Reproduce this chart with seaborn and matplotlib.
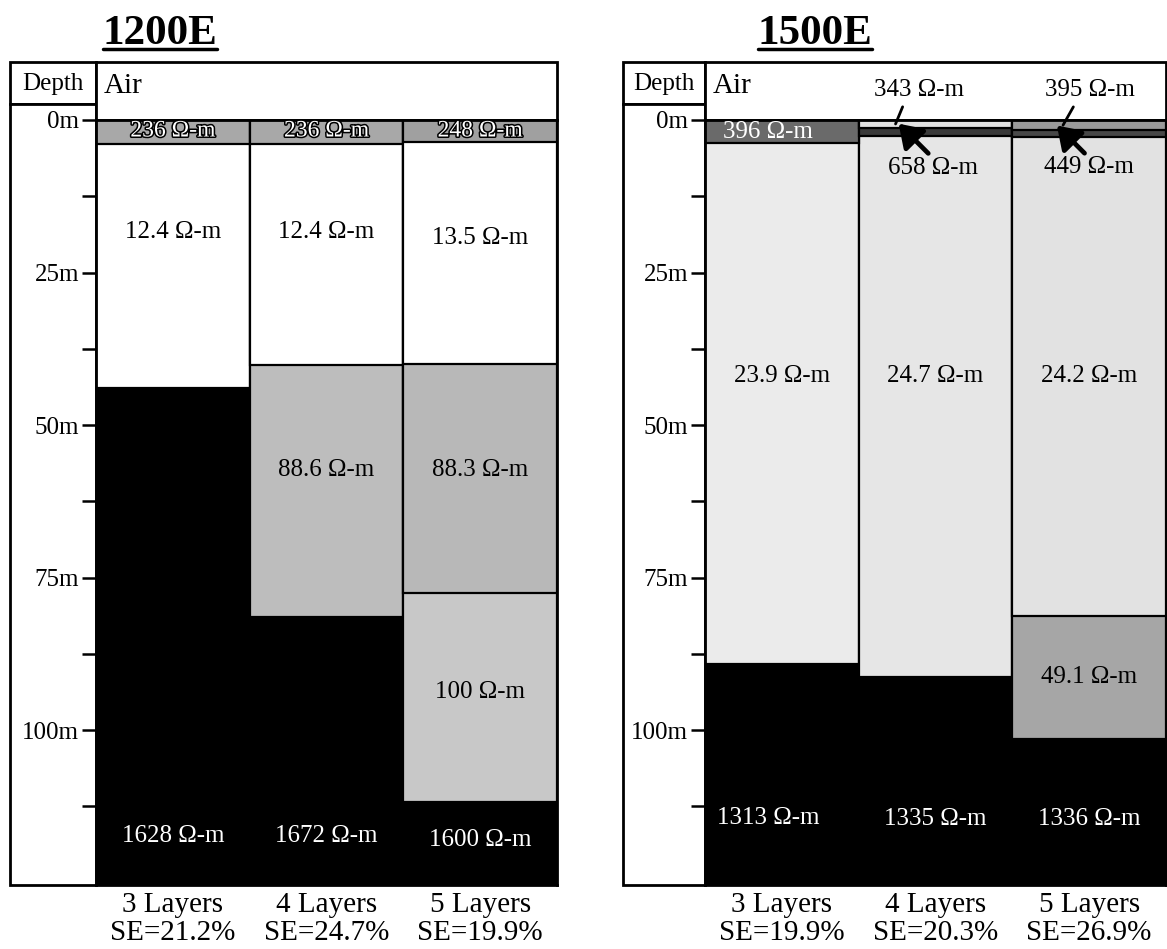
import numpy as np
import pandas as pd
import matplotlib
matplotlib.use("Agg")
import matplotlib.pyplot as plt
import seaborn as sns
from matplotlib.patches import Rectangle
from matplotlib.lines import Line2D
import matplotlib.patheffects as pe

# ---------------- data ----------------
models = ["3 Layers", "4 Layers", "5 Layers"]
panels = ["1200E", "1500E"]
se_1200 = [21.2, 24.7, 19.9]
se_1500 = [19.9, 20.3, 26.9]
# resistivity of each layer (top -> bottom), Ohm-m
rho_1200 = [[236, 12.4, 1628], [236, 12.4, 88.6, 1672], [248, 13.5, 88.3, 100, 1600]]
rho_1500 = [[396, 23.9, 1313], [343, 658, 24.7, 1335], [395, 449, 24.2, 49.1, 1336]]
# depth of the base of each layer (m)
base_1200 = [[3.9, 43.9, 125.4], [3.9, 40.2, 81.5, 125.4], [3.6, 40.0, 77.5, 111.8, 125.4]]
base_1500 = [[3.8, 89.2, 125.4], [1.3, 2.6, 91.3, 125.4], [1.7, 2.8, 81.3, 101.5, 125.4]]
depth_ticks = [0, 25, 50, 75, 100]
depth_minor = [12.5, 37.5, 62.5, 87.5, 112.5]
depth_max = 125.4

# ---------------- styles / layout ----------------
fill_1200 = [["#a8a8a8", "white", "black"],
             ["#a8a8a8", "white", "#bdbdbd", "black"],
             ["#a0a0a0", "white", "#b8b8b8", "#c8c8c8", "black"]]
fill_1500 = [["#6a6a6a", "#ebebeb", "black"],
             ["#e2e2e2", "#3a3a3a", "#e6e6e6", "black"],
             ["#9a9a9a", "#474747", "#e2e2e2", "#a6a6a6", "black"]]
# label style per layer: "k" black, "w" white, "o" outlined white, None -> arrow annotation
style_1200 = [["o", "k", "w"], ["o", "k", "k", "w"], ["o", "k", "k", "k", "w"]]
style_1500 = [["w", "k", "w"], [None, None, "k", "w"], [None, None, "k", "k", "w"]]
# label depth (m) and x shift (columns) per layer
lab_1200 = [[1.8, 18.4, 117.4], [1.8, 18.4, 57.4, 117.4], [1.8, 19.3, 57.4, 93.8, 118.0]]
lab_1500 = [[2.0, 42.0, 114.4], [0, 0, 42.0, 114.6], [0, 0, 42.0, 91.3, 114.6]]
shift_1200 = [[0, 0, 0], [0, 0, 0, 0], [0, 0, 0, 0, 0]]
shift_1500 = [[-0.09, 0, -0.09], [0, 0, 0, 0], [0, 0, 0, 0, 0]]
# arrow annotations: (col, layer, tip x shift, tip depth, text offset px, arrow kind)
ann_1500 = [(1, 0, -0.26, 0.65, (23, 34), "line"),
            (1, 1, -0.24, 0.6, (34, -44), "arrow"),
            (2, 0, -0.17, 0.85, (27, 35), "line"),
            (2, 1, -0.21, 0.9, (32, -42), "arrow")]

W, H = 1167, 949
sns.set_theme(style="white")
plt.rcParams["font.family"] = ["Liberation Serif", "DejaVu Serif"]
plt.rcParams["text.color"] = "black"
plt.rcParams["xtick.color"] = "black"
plt.rcParams["ytick.color"] = "black"

fig = plt.figure(figsize=(W / 100, H / 100), dpi=100)
fig.patch.set_facecolor("white")

over = fig.add_axes([0, 0, 1, 1], zorder=0)
over.set_xlim(0, W)
over.set_ylim(H, 0)
over.axis("off")

geo = [dict(xl=10, xd=96, xr=557, yt=62, yh=104, y0=120, yb=885, tx=160),
       dict(xl=623, xd=705, xr=1166, yt=62, yh=104, y0=120, yb=885, tx=815)]


def fmt(v):
    return f"{v:g} \u03a9-m"


def draw_panel(g, title, rho, base, fills, styles, labs, shifts, se, anns):
    lw = 2.0
    over.add_patch(Rectangle((g["xl"], g["yt"]), g["xd"] - g["xl"], g["yh"] - g["yt"],
                             fc="white", ec="black", lw=lw))
    over.add_patch(Rectangle((g["xl"], g["yh"]), g["xd"] - g["xl"], g["yb"] - g["yh"],
                             fc="white", ec="black", lw=lw))
    over.add_patch(Rectangle((g["xd"], g["yt"]), g["xr"] - g["xd"], g["y0"] - g["yt"],
                             fc="white", ec="black", lw=lw))
    over.text((g["xl"] + g["xd"]) / 2, (g["yt"] + g["yh"]) / 2 + 1, "Depth",
              ha="center", va="center", fontsize=18)
    over.text(g["xd"] + 8, (g["yt"] + g["y0"]) / 2 - 5, "Air",
              ha="left", va="center", fontsize=21)
    t = over.text(g["tx"], 44, title, ha="center", va="baseline",
                  fontsize=31, fontweight="bold")

    ax = fig.add_axes([g["xd"] / W, 1 - g["yb"] / H, (g["xr"] - g["xd"]) / W,
                       (g["yb"] - g["y0"]) / H], zorder=2)
    ax.patch.set_alpha(0)

    rows = []
    for j, (m, r, b) in enumerate(zip(models, rho, base)):
        n = len(r)
        for i in range(n):
            rows.append(dict(model=m, rank=n - 1 - i, bottom=b[i], color=fills[j][i]))
    df = pd.DataFrame(rows)
    for k in range(int(df["rank"].max()) + 1):
        sub = df[df["rank"] == k]
        pal = dict(zip(sub["model"], sub["color"]))
        sns.barplot(data=sub, x="model", y="bottom", hue="model", order=models,
                    palette=pal, width=1.0, saturation=1, edgecolor="black",
                    linewidth=1.6, errorbar=None, legend=False, ax=ax)

    ax.set_xlim(-0.5, 2.5)
    ax.set_ylim(depth_max, 0)
    ax.set_xlabel("")
    ax.set_ylabel("")

    for j, r in enumerate(rho):
        for i, v in enumerate(r):
            st = styles[j][i]
            if st is None:
                continue
            x, d = j + shifts[j][i], labs[j][i]
            if st == "o":
                ax.text(x, d, fmt(v), color="white", fontsize=17, ha="center", va="center",
                        path_effects=[pe.withStroke(linewidth=2.2, foreground="black")])
            else:
                ax.text(x, d, fmt(v), color="white" if st == "w" else "black",
                        fontsize=18, ha="center", va="center")

    for (j, i, dx, tip, off, kind) in anns:
        if kind == "line":
            props = dict(arrowstyle="-", lw=2.0, color="black", relpos=(0.35, 0.0),
                         shrinkA=2, shrinkB=0)
        else:
            props = dict(arrowstyle="-|>,head_length=0.75,head_width=0.5", lw=3.4,
                         color="black", relpos=(0.5, 0.95), shrinkA=0, shrinkB=0)
        ax.annotate(fmt(rho[j][i]), xy=(j + dx, tip), xycoords="data",
                    xytext=off, textcoords="offset pixels", ha="center", va="center",
                    fontsize=18, arrowprops=props, annotation_clip=False)

    for s in ax.spines.values():
        s.set_color("black")
        s.set_linewidth(2.0)
    ax.set_yticks(depth_ticks, labels=[f"{d}m" for d in depth_ticks])
    ax.set_yticks(depth_minor, minor=True)
    ax.tick_params(axis="y", which="both", left=True, direction="out", length=10,
                   width=1.8, color="black", labelsize=18, pad=2, labelcolor="black")
    ax.set_xticks(range(len(models)),
                  labels=[f"{m}\nSE={s}%" for m, s in zip(models, se)])
    ax.tick_params(axis="x", which="both", bottom=False, length=0, labelsize=21,
                   pad=5, labelcolor="black")
    for lab in ax.get_xticklabels():
        lab.set_linespacing(1.12)
    return t


titles = []
titles.append(draw_panel(geo[0], panels[0], rho_1200, base_1200, fill_1200, style_1200,
                         lab_1200, shift_1200, se_1200, []))
titles.append(draw_panel(geo[1], panels[1], rho_1500, base_1500, fill_1500, style_1500,
                         lab_1500, shift_1500, se_1500, ann_1500))

fig.canvas.draw()
inv = over.transData.inverted()
for t in titles:
    bb = t.get_window_extent()
    (x0, _), (x1, _) = inv.transform([[bb.x0, bb.y0], [bb.x1, bb.y1]])
    over.add_line(Line2D([x0, x1], [49, 49], color="black", lw=2.5))

fig.savefig("out.png", dpi=100, facecolor="white")
